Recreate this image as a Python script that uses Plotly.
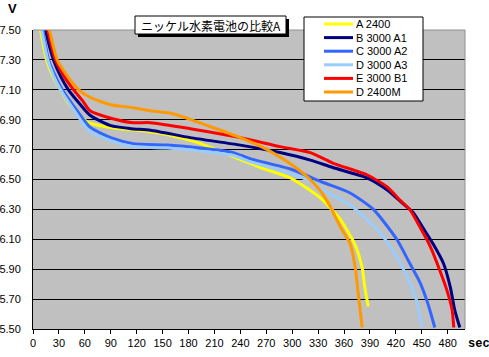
import plotly.graph_objects as go

# ---- data ----
series_names = ["A 2400", "B 3000 A1", "C 3000 A2", "D 3000 A3", "E 3000 B1", "D 2400M"]
series_colors = ["#FFFF00", "#000080", "#3366FF", "#99CCFF", "#FF0000", "#FF9900"]

a2400_t = [6, 8.7, 15.6, 23, 31.8, 40, 49, 64, 78, 101, 136, 155, 194, 220, 263, 298, 332, 356, 373, 381, 384, 388]
a2400_v = [7.58, 7.50, 7.30, 7.19, 7.10, 7.02, 6.96, 6.88, 6.86, 6.84, 6.82, 6.80, 6.74, 6.68, 6.58, 6.51, 6.38, 6.23, 6.06, 5.91, 5.78, 5.65]

b3000a1_t = [12, 14.5, 23.7, 32, 41, 55, 66, 90, 113, 136, 182, 240, 286, 321, 347, 387, 410, 428, 440, 451, 463, 475, 483, 488, 494]
b3000a1_v = [7.58, 7.50, 7.30, 7.19, 7.10, 7.00, 6.93, 6.86, 6.84, 6.83, 6.78, 6.73, 6.68, 6.63, 6.58, 6.51, 6.43, 6.34, 6.28, 6.18, 6.07, 5.94, 5.78, 5.63, 5.51]

c3000a2_t = [8, 11, 18, 26, 34, 51, 66, 90, 116, 155, 194, 232, 251, 298, 336, 367, 394, 421, 436, 448, 457, 465]
c3000a2_v = [7.58, 7.50, 7.30, 7.19, 7.10, 6.96, 6.85, 6.78, 6.74, 6.73, 6.71, 6.68, 6.64, 6.57, 6.48, 6.41, 6.30, 6.10, 5.94, 5.81, 5.67, 5.51]

d3000a3_t = [7, 10, 17, 24, 32, 49, 64, 90, 116, 155, 194, 232, 251, 286, 317, 336, 367, 387, 405, 421, 433, 444, 450]
d3000a3_v = [7.58, 7.50, 7.30, 7.19, 7.10, 6.95, 6.83, 6.76, 6.72, 6.71, 6.69, 6.66, 6.62, 6.56, 6.50, 6.43, 6.33, 6.23, 6.12, 5.98, 5.85, 5.69, 5.51]

e3000b1_t = [14, 17, 26, 36, 47, 57, 66, 90, 116, 136, 182, 240, 286, 321, 347, 387, 410, 425, 436, 448, 460, 471, 479, 485, 487]
e3000b1_v = [7.58, 7.50, 7.30, 7.19, 7.10, 7.03, 6.96, 6.91, 6.88, 6.88, 6.84, 6.78, 6.72, 6.68, 6.61, 6.53, 6.45, 6.36, 6.30, 6.18, 6.05, 5.89, 5.76, 5.63, 5.51]

d2400m_t = [16, 19, 28, 40, 53, 66, 90, 116, 136, 162, 202, 240, 271, 294, 317, 332, 344, 356, 367, 373, 376, 381]
d2400m_v = [7.58, 7.50, 7.30, 7.19, 7.10, 7.05, 7.00, 6.98, 6.96, 6.94, 6.86, 6.78, 6.70, 6.62, 6.52, 6.43, 6.32, 6.18, 6.07, 5.91, 5.76, 5.51]

x_ticks = list(range(0, 481, 30))
y_ticks = [5.5, 5.7, 5.9, 6.1, 6.3, 6.5, 6.7, 6.9, 7.1, 7.3, 7.5]
title_text = "ニッケル水素電池の比較A"
y_unit = "V"
x_unit = "sec"

series_t = [a2400_t, b3000a1_t, c3000a2_t, d3000a3_t, e3000b1_t, d2400m_t]
series_v = [a2400_v, b3000a1_v, c3000a2_v, d3000a3_v, e3000b1_v, d2400m_v]

# ---- layout geometry (pixels) ----
W, H = 489, 357
ML, MR, MT, MB = 33, 24, 30, 28
PW, PH = W - ML - MR, H - MT - MB


def px(x):
    return (x - ML) / PW


def py(y):
    return (H - MB - y) / PH


fig = go.Figure()
for name, color, t, v in zip(series_names, series_colors, series_t, series_v):
    fig.add_trace(go.Scatter(x=t, y=v, mode="lines", name=name,
                             line=dict(color=color, width=3, shape="spline", smoothing=0.6),
                             showlegend=False))

tickfont = dict(family="Liberation Sans, Arial, sans-serif", size=11, color="black")

shapes = []
annotations = []

# plot frame top/right (grey)
shapes.append(dict(type="line", xref="paper", yref="paper", x0=0, x1=1, y0=1, y1=1,
                   line=dict(color="#909090", width=1)))
shapes.append(dict(type="line", xref="paper", yref="paper", x0=1, x1=1, y0=0, y1=1,
                   line=dict(color="#909090", width=1)))

# title box with shadow
shapes.append(dict(type="rect", xref="paper", yref="paper", x0=px(138), x1=px(289), y0=py(37), y1=py(19),
                   fillcolor="black", line=dict(width=0), layer="above"))
shapes.append(dict(type="rect", xref="paper", yref="paper", x0=px(135), x1=px(286), y0=py(34), y1=py(16),
                   fillcolor="white", line=dict(color="black", width=1), layer="above"))
annotations.append(dict(text=title_text, xref="paper", yref="paper", x=px(210.5), y=py(25),
                        xanchor="center", yanchor="middle", showarrow=False,
                        font=dict(family="Noto Sans CJK JP", size=12, color="black")))

# legend box
shapes.append(dict(type="rect", xref="paper", yref="paper", x0=px(304), x1=px(423), y0=py(101), y1=py(17),
                   fillcolor="white", line=dict(color="black", width=1), layer="above"))
row0, rowgap = 24, 13.6
for i, (name, color) in enumerate(zip(series_names, series_colors)):
    yy = row0 + i * rowgap
    shapes.append(dict(type="line", xref="paper", yref="paper", x0=px(324), x1=px(353), y0=py(yy), y1=py(yy),
                       line=dict(color=color, width=3), layer="above"))
    annotations.append(dict(text=name, xref="paper", yref="paper", x=px(354), y=py(yy),
                            xanchor="left", yanchor="middle", showarrow=False,
                            font=dict(family="Liberation Sans, Arial, sans-serif", size=11, color="black")))

# axis unit labels
annotations.append(dict(text="<b>" + y_unit + "</b>", xref="paper", yref="paper", x=px(12.5), y=py(8),
                        xanchor="center", yanchor="middle", showarrow=False,
                        font=dict(family="Liberation Sans, Arial, sans-serif", size=13, color="black")))
annotations.append(dict(text="<b>" + x_unit + "</b>", xref="paper", yref="paper", x=px(466), y=py(344),
                        xanchor="left", yanchor="middle", showarrow=False,
                        font=dict(family="Liberation Mono, DejaVu Sans Mono, monospace", size=12, color="black")))

fig.update_layout(
    width=W, height=H,
    margin=dict(l=ML, r=MR, t=MT, b=MB, pad=0, autoexpand=False),
    paper_bgcolor="white",
    plot_bgcolor="#C0C0C0",
    shapes=shapes,
    annotations=annotations,
    showlegend=False,
    xaxis=dict(range=[0, 500], tickvals=x_ticks, ticktext=[str(v) for v in x_ticks],
               showgrid=False, zeroline=False, showline=True, linecolor="black", linewidth=1,
               ticks="outside", ticklen=4, tickcolor="black", tickfont=tickfont, fixedrange=True,
               automargin=False),
    yaxis=dict(range=[5.5, 7.5], tickvals=y_ticks, ticktext=["%.2f" % v for v in y_ticks],
               showgrid=True, gridcolor="black", gridwidth=1, zeroline=False,
               showline=True, linecolor="black", linewidth=1,
               ticks="", tickfont=tickfont, ticklabelstandoff=9, fixedrange=True,
               automargin=False),
)

fig.write_html("out.html", config={"displayModeBar": False},
               post_script="document.body.style.margin='0';document.body.style.padding='0';")
